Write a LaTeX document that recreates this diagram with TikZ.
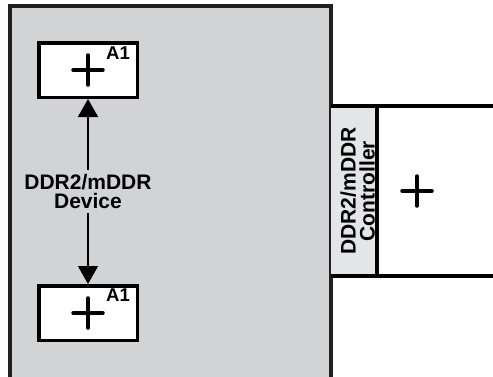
\documentclass[tikz,border=0pt]{standalone}
\usepackage{fontspec}
\setmainfont{Liberation Sans}
\usepackage{xcolor}
\usepackage{tikz}
\usetikzlibrary{arrows.meta}
\definecolor{ink}     {HTML}{231F20}
\definecolor{devgray} {HTML}{D1D3D4}
\definecolor{stripbg} {HTML}{E4E5E6}
\tikzset{
  devframe/.style = {draw=ink, fill=devgray, line width=4pt},
  membox/.style   = {draw=black, fill=white, line width=3.5pt,
                     minimum width=98.5pt, minimum height=54.5pt, inner sep=0pt},
  cross/.style    = {draw=black, line width=3.5pt, line cap=round},
  dblarrow/.style = {{Triangle[width=20pt,length=18pt]}-{Triangle[width=20pt,length=18pt]},
                     draw=black, line width=1.5pt},
  a1lbl/.style    = {font=\fontsize{18.5}{18.5}\selectfont\bfseries, inner sep=0pt},
  devlbl/.style   = {font=\fontsize{21}{19}\selectfont\bfseries, align=center,
                     fill=devgray, inner sep=4pt},
  rail/.style     = {draw=black, line width=3.5pt},
}

\begin{document}
\begin{tikzpicture}[x=1pt, y=-1pt]
  \useasboundingbox (0,0) rectangle (493,376);
  \clip (0,0) rectangle (493,376);

  % device
  \draw[devframe] (10,400) -- (10,5.5) -- (331,5.5) -- (331,400);
  \node[membox] (topmem) at (88,70) {};
  \node[membox] (botmem) at (88,313) {};
  \node[a1lbl] (topa1) at ([xshift=30pt,yshift=16.5pt]topmem.center) {A1};
  \node[a1lbl] (bota1) at ([xshift=30pt,yshift=18pt]botmem.center) {A1};
  \draw[dblarrow] (topmem) -- node[devlbl] (devname) {DDR2/mDDR\\Device} (botmem);

  % controller
  \fill[stripbg] (331,106) rectangle (377,276);
  \draw[rail] (331,106) -- (500,106);
  \draw[rail] (331,276) -- (500,276);
  \draw[rail] (377,106) -- (377,276);
  \node[devlbl, fill=none, inner sep=0pt, rotate=90] (ctlname) at (357.5,191) {DDR2/mDDR\\Controller};
  \coordinate (ctlbox) at (417,191);

  \foreach \c in {topmem, botmem, ctlbox}
    \draw[cross] ([xshift=-15pt]\c.center) -- ([xshift=15pt]\c.center)
                 ([yshift=-15pt]\c.center) -- ([yshift=15pt]\c.center);
\end{tikzpicture}
\end{document}
